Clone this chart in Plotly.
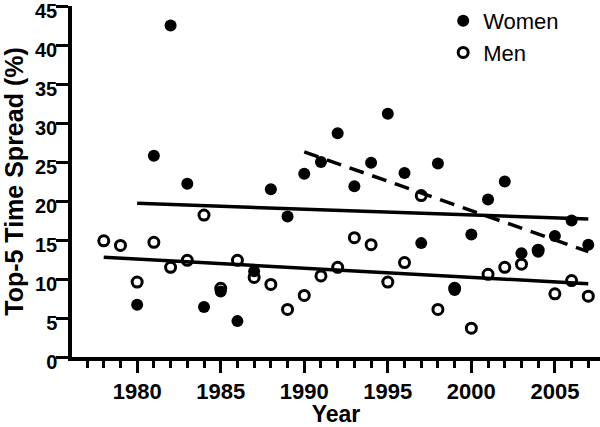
import plotly.graph_objects as go

# data
women_years = list(range(1980, 2008))
women_spread = [6.7, 25.8, 42.5, 22.2, 6.4, 8.4, 4.6, 11.0, 21.5, 18.0,
                23.5, 25.0, 28.7, 21.9, 24.9, 31.2, 23.6, 14.6, 24.8, 8.6,
                15.7, 20.2, 22.5, 13.3, 13.5, 15.5, 17.5, 14.4]

men_years = list(range(1978, 2008))
men_spread = [14.9, 14.3, 9.6, 14.7, 11.5, 12.4, 18.2, 8.8, 12.4, 10.2,
              9.3, 6.1, 7.9, 10.4, 11.5, 15.3, 14.4, 9.6, 12.1, 20.7,
              6.1, 8.8, 3.7, 10.6, 11.5, 11.9, 13.7, 8.1, 9.8, 7.8]

# fitted trend lines (end points)
women_fit_years = [1980, 2007]
women_fit = [19.7, 17.7]
men_fit_years = [1978, 2007]
men_fit = [12.8, 9.4]
women_recent_years = [1990, 2007]
women_recent_fit = [26.3, 13.5]

x_ticks = [1980, 1985, 1990, 1995, 2000, 2005]
y_ticks = [0, 5, 10, 15, 20, 25, 30, 35, 40, 45]

FONT = "Liberation Sans, Arial, sans-serif"

fig = go.Figure()

fig.add_trace(go.Scatter(
    x=women_fit_years, y=women_fit, mode="lines",
    line=dict(color="black", width=3.5), showlegend=False, hoverinfo="skip"))
fig.add_trace(go.Scatter(
    x=men_fit_years, y=men_fit, mode="lines",
    line=dict(color="black", width=3.5), showlegend=False, hoverinfo="skip"))
fig.add_trace(go.Scatter(
    x=women_recent_years, y=women_recent_fit, mode="lines",
    line=dict(color="black", width=3.5, dash="15px,9px"), showlegend=False,
    hoverinfo="skip"))

fig.add_trace(go.Scatter(
    x=women_years, y=women_spread, mode="markers", name="Women",
    legendgroup="w", cliponaxis=False,
    marker=dict(symbol="circle", size=12, color="black", line=dict(width=0))))
fig.add_trace(go.Scatter(
    x=men_years, y=men_spread, mode="markers", name="Men",
    legendgroup="m", cliponaxis=False,
    marker=dict(symbol="circle-open", size=10, color="black",
                line=dict(width=3, color="black"))))

fig.update_layout(
    width=600, height=427,
    margin=dict(l=72, r=0, t=6, b=70, autoexpand=False),
    plot_bgcolor="white", paper_bgcolor="white",
    font=dict(family=FONT, color="black"),
    legend=dict(x=0.703, y=1.012, xref="paper", yref="container",
                xanchor="left", yanchor="top",
                font=dict(size=22, family=FONT),
                bgcolor="rgba(0,0,0,0)", traceorder="grouped",
                tracegroupgap=0),
    xaxis=dict(
        range=[1976.1, 2007.7], tickmode="array", tickvals=x_ticks,
        ticks="outside", ticklen=12, tickwidth=3, tickcolor="black",
        showline=True, linewidth=3.5, linecolor="black",
        showgrid=False, zeroline=False,
        minor=dict(dtick=1, tick0=1980, ticks="outside", ticklen=7,
                   tickwidth=3, tickcolor="black", showgrid=False),
        tickfont=dict(size=22, family=FONT, weight="bold"),
        title=dict(text="Year", font=dict(size=23, family=FONT, weight="bold"),
                   standoff=4)),
    yaxis=dict(
        range=[0, 45], tickmode="array", tickvals=y_ticks,
        ticks="outside", ticklen=12, tickwidth=3, tickcolor="black",
        showline=True, linewidth=3.5, linecolor="black",
        showgrid=False, zeroline=False, ticklabelstandoff=-5,
        ticklabeloverflow="allow", ticklabelshift=5,
        tickfont=dict(size=20, family=FONT, weight="bold"),
        title=dict(text="Top-5 Time Spread (%)",
                   font=dict(size=25, family=FONT, weight="bold"),
                   standoff=13)),
)

fig.write_html("out.html", config={"displayModeBar": False},
               post_script="document.body.style.margin='0';")
